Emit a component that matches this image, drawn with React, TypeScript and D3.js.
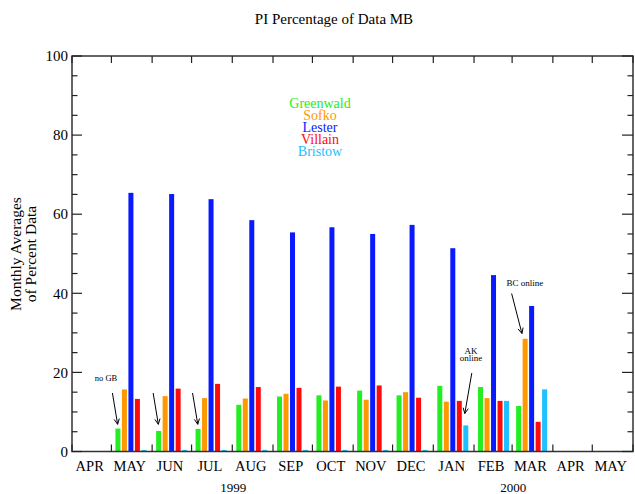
import React from "react";
import * as d3 from "d3";

const monthLabels = ["APR", "MAY", "JUN", "JUL", "AUG", "SEP", "OCT", "NOV", "DEC", "JAN", "FEB", "MAR", "APR", "MAY"];
const monthStarts = monthLabels.map((_, i) => new Date(Date.UTC(1999, 3 + i, 1)));
const series = ["Greenwald", "Sofko", "Lester", "Villain", "Bristow"];
const colors = ["#22ee22", "#ff9900", "#0a1aff", "#ff0a0a", "#1ec0ff"];

// values per month (APR 1999 .. MAY 2000); null = no bar
const greenwald = [null, 5.8, 5.2, 5.7, 11.8, 13.9, 14.2, 15.4, 14.2, 16.6, 16.3, 11.5, null, null];
const sofko = [null, 15.7, 14.0, 13.5, 13.4, 14.6, 12.9, 13.1, 15.0, 12.6, 13.5, 28.5, null, null];
const lester = [null, 65.4, 65.1, 63.8, 58.5, 55.4, 56.7, 55.0, 57.3, 51.4, 44.6, 36.8, null, null];
const villain = [null, 13.3, 15.9, 17.1, 16.3, 16.1, 16.4, 16.7, 13.6, 12.8, 12.8, 7.5, null, null];
const bristow = [null, 0.4, 0.4, 0.4, 0.4, 0.4, 0.4, 0.4, 0.4, 6.6, 12.8, 15.7, null, null];
const allSeries = [greenwald, sofko, lester, villain, bristow];

const yMajor = [0, 20, 40, 60, 80, 100];
const yMinor = d3.range(0, 101, 5);
const years = [
  { label: "1999", month: 4 },
  { label: "2000", month: 11 },
];

const FONT = "'Liberation Serif', 'Times New Roman', serif";

export default function App() {
  const W = 635, H = 494;
  const left = 72, right = 633, top = 56, bottom = 451.5;
  const x = d3.scaleUtc()
    .domain([monthStarts[0], new Date(Date.UTC(2000, 5, 1))])
    .range([left, right]);
  const y = d3.scaleLinear().domain([0, 100]).range([bottom, top]);
  const inner = d3.scaleBand<number>().domain(d3.range(5)).range([4, 35]).paddingInner(0.23);

  const boundaries = [...monthStarts, new Date(Date.UTC(2000, 5, 1))];

  const arrow = (x1: number, y1: number, x2: number, y2: number, key: string) => {
    const ang = Math.atan2(y2 - y1, x2 - x1);
    const L = 6, a = 0.45;
    const p1 = [x2 - L * Math.cos(ang - a), y2 - L * Math.sin(ang - a)];
    const p2 = [x2 - L * Math.cos(ang + a), y2 - L * Math.sin(ang + a)];
    return (
      <g key={key} stroke="#000" strokeWidth={1} fill="none">
        <line x1={x1} y1={y1} x2={x2} y2={y2} />
        <path d={`M${p1[0]},${p1[1]}L${x2},${y2}L${p2[0]},${p2[1]}`} />
      </g>
    );
  };
  const mx = (i: number) => x(monthStarts[i]);

  return (
    <svg width={W} height={H} style={{ display: "block", position: "absolute", left: 0, top: 0 }} fontFamily={FONT}>
      <rect width={W} height={H} fill="#fff" />
      <text x={334} y={24} textAnchor="middle" fontSize={15}>PI Percentage of Data MB</text>

      {/* bars */}
      {allSeries.map((vals, j) =>
        vals.map((v, i) =>
          v == null ? null : (
            <rect key={`b${j}-${i}`} x={mx(i) + (inner(j) as number)} y={y(v)} width={inner.bandwidth()} height={bottom - y(v)} fill={colors[j]} />
          )
        )
      )}

      {/* frame */}
      <rect x={left} y={top} width={right - left} height={bottom - top} fill="none" stroke="#333" strokeWidth={1.5} />
      {yMinor.map((v) => {
        const major = v % 20 === 0;
        return (
          <g key={`yt${v}`} stroke="#222" strokeWidth={1.2}>
            <line x1={left} x2={left + (major ? 10 : 5.5)} y1={y(v)} y2={y(v)} />
            <line x1={right} x2={right - (major ? 11 : 5.5)} y1={y(v)} y2={y(v)} />
          </g>
        );
      })}
      {boundaries.map((d, i) => (
        <g key={`xt${i}`} stroke="#222" strokeWidth={1.2}>
          <line x1={x(d)} x2={x(d)} y1={bottom} y2={bottom - 7} />
          <line x1={x(d)} x2={x(d)} y1={top} y2={top + 7} />
        </g>
      ))}
      {yMajor.map((v) => (
        <text key={`yl${v}`} x={68} y={y(v)} dy="0.35em" textAnchor="end" fontSize={15}>{v}</text>
      ))}
      {monthLabels.map((m, i) => (
        <text key={`ml${i}`} x={(x(boundaries[i]) + x(boundaries[i + 1])) / 2 - 2} y={471} textAnchor="middle" fontSize={14.5}>{m}</text>
      ))}
      {years.map((yr) => (
        <text key={yr.label} x={mx(yr.month) + 1} y={492} textAnchor="middle" fontSize={13}>{yr.label}</text>
      ))}

      <text transform="translate(21,254) rotate(-90)" textAnchor="middle" fontSize={15.5}>Monthly Averages</text>
      <text transform="translate(36,254) rotate(-90)" textAnchor="middle" fontSize={15.5}>of Percent Data</text>

      {/* legend */}
      {series.map((s, j) => (
        <text key={s} x={320} y={107.5 + j * 12} textAnchor="middle" fontSize={14} fill={colors[j]}>{s}</text>
      ))}

      {/* annotations */}
      <text x={106} y={381} textAnchor="middle" fontSize={8.5}>no GB</text>
      {[1, 2, 3].map((i) => arrow(mx(i) + 1, 393, mx(i) + 6.2, 424.3, `ga${i}`))}
      <text x={471} y={354} textAnchor="middle" fontSize={9}>AK</text>
      <text x={471} y={360.5} textAnchor="middle" fontSize={9}>online</text>
      {arrow(mx(9) + 38.5, 373, mx(9) + 31.5, 413.5, "ak")}
      <text x={525} y={286} textAnchor="middle" fontSize={9}>BC online</text>
      {arrow(mx(11) - 0.5, 293.5, mx(11) + 9.8, 333.5, "bc")}
    </svg>
  );
}
